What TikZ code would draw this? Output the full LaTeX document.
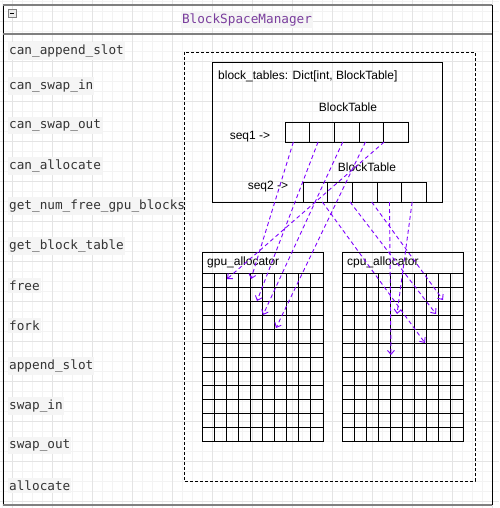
\documentclass[tikz,border=0pt]{standalone}
\usepackage{fontspec}
\setmainfont{Liberation Sans}
\setmonofont{DejaVu Sans Mono}
\usetikzlibrary{arrows.meta,positioning}
\definecolor{bsmpurple}{RGB}{122,62,157}
\definecolor{mapviolet}{RGB}{127,0,255}
\definecolor{codegray}{RGB}{245,245,245}
\definecolor{codetext}{RGB}{51,51,51}
\definecolor{gridmajor}{RGB}{228,228,228}
\definecolor{gridminor}{RGB}{243,243,243}
\tikzset{
  method/.style={anchor=west, fill=codegray, text=codetext, inner xsep=1pt, inner ysep=2.5pt, font=\ttfamily\fontsize{12.7}{14}\selectfont},
  cellbox/.style={draw, line width=1pt, minimum width=24.7pt, minimum height=20pt, inner sep=0pt, outer sep=0pt},
  lbl/.style={font=\fontsize{12}{14}\selectfont, inner sep=0pt},
  allocbox/.style={draw, line width=1pt, minimum width=121pt, minimum height=21pt, inner sep=0pt, outer sep=0pt},
  mapline/.style={draw=mapviolet, line width=0.9pt, dash pattern=on 4pt off 3pt, -{Straight Barb[length=4pt,width=7pt]}},
}
\begin{document}
\begin{tikzpicture}[x=1pt,y=-1pt]
  \useasboundingbox (0,0) rectangle (499,508);
  % editor grid
  \foreach \gx in {2.7,12.7,...,499} \draw[gridminor,line width=0.6pt] (\gx,0) -- (\gx,508);
  \foreach \gy in {1.7,11.7,...,508} \draw[gridminor,line width=0.6pt] (0,\gy) -- (499,\gy);
  \foreach \gx in {12.7,52.7,...,499} \draw[gridmajor,line width=0.8pt] (\gx,0) -- (\gx,508);
  \foreach \gy in {21.7,61.7,...,508} \draw[gridmajor,line width=0.8pt] (0,\gy) -- (499,\gy);

  % class frame
  \draw[line width=1pt] (3,5) -- (3,505) (492,5) -- (492,505);
  \draw[line width=2pt, draw=gray] (3,5) -- (492,5) (3,34) -- (492,34) (3,505) -- (492,505);
  \node [draw=gray, fill=gray!15, minimum size=8pt, inner sep=0pt] (fold) at (12,13) {};
  \draw ([xshift=2pt]fold.west) -- ([xshift=-2pt]fold.east);
  \node [fill=codegray, text=bsmpurple, inner sep=1.5pt, font=\ttfamily\fontsize{12.7}{14}\selectfont] (title) at (247,20) {BlockSpaceManager};

  \foreach \y/\name [count=\k] in {50.7/can\_append\_slot, 85.7/can\_swap\_in, 125.7/can\_swap\_out, 165.7/can\_allocate, 205.7/get\_num\_free\_gpu\_blocks, 245.7/get\_block\_table, 285.7/free, 325.7/fork, 365.7/append\_slot, 405.7/swap\_in, 445.7/swap\_out, 485.7/allocate}
    \node [method] (m\k) at (8,\y) {\name};

  % storage area
  \draw[line width=0.9pt, dash pattern=on 3pt off 2pt] (184,52) rectangle (475,481);
  \node [draw, line width=1pt, minimum width=230pt, minimum height=139pt, inner sep=0pt] (tables) at (327,132.5) {};
  \node [lbl, anchor=west] (tablesname) at (218,76) {block\_tables: Dict[int, BlockTable]};
  \node [lbl] (bt1) at (348,107) {BlockTable};
  \node [lbl] (bt2) at (367,167) {BlockTable};
  \node [lbl] (seq1) at (250,137) {seq1 ->};
  \node [lbl] (seq2) at (268,187) {seq2 ->};
  \foreach \i in {1,...,5} {
    \node [cellbox] (s1c\i) at ({285+24.7*(\i-0.5)},132) {};
    \node [cellbox] (s2c\i) at ({303+24.7*(\i-0.5)},192) {};
  }

  % allocators
  \foreach \ox/\nm in {202/gpu, 342/cpu} {
    \node [allocbox, anchor=north west] (\nm) at (\ox,252) {};
    \node [lbl, anchor=west] (\nm name) at ([xshift=5pt]\nm.west) {\nm\_allocator};
    \foreach \c in {0,...,10} \draw[line width=1pt] ({\ox+12.1*\c},273) -- ++(0,169);
    \foreach \r in {1,...,12} \draw[line width=1pt] (\ox,{273+14.08*\r}) -- ++(121,0);
  }

  \coordinate (g1) at (227,279);
  \coordinate (g2) at (251,279);
  \coordinate (g3) at (257,301);
  \coordinate (g4) at (263,315);
  \coordinate (g5) at (276,328);
  \coordinate (c1) at (391,355);
  \coordinate (c2) at (397,314);
  \coordinate (c3) at (425,343);
  \coordinate (c4) at (436,314);
  \coordinate (c5) at (443,300);
  \foreach \i/\dx/\t in {1/-4/g2, 2/-4/g3, 3/-4/g4, 4/-6/g5, 5/-12/g1}
    \draw[mapline] ([xshift=\dx pt]s1c\i.south) -- (\t);
  \foreach \i/\dx/\t in {1/7/c3, 2/10/c4, 3/7/c5, 4/0/c1, 5/-2/c2}
    \draw[mapline] ([xshift=\dx pt]s2c\i.south) -- (\t);
\end{tikzpicture}
\end{document}
